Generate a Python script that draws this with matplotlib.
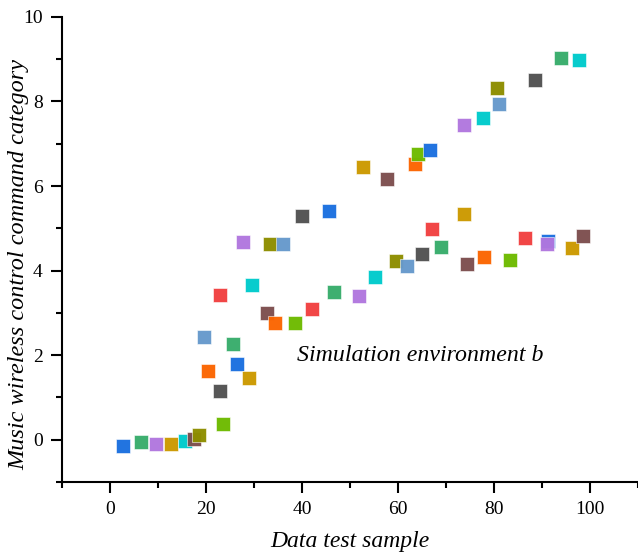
import matplotlib
matplotlib.use('Agg')
import matplotlib.pyplot as plt
from matplotlib.ticker import MultipleLocator

# Origin "Bold" palette
palette = {
    'darkgray': '#515151', 'red': '#F14040', 'blue': '#1A6FDF', 'green': '#37AD6B',
    'purple': '#B177DE', 'gold': '#CC9900', 'cyan': '#00CBCC', 'brown': '#7D4E4E',
    'olive': '#8E8E00', 'orange': '#FB6501', 'lightblue': '#6699CC', 'lime': '#6DBA00',
}

# Data (sample index, command category, colour)
samples = [2.8, 6.4, 9.6, 12.8, 15.7, 17.4, 18.6, 19.6, 20.5, 22.9, 22.9, 23.6,
           25.6, 26.4, 27.8, 28.9, 29.6, 32.7, 33.4, 34.4, 36.0, 38.5, 40.0, 42.0,
           45.6, 46.6, 51.9, 52.8, 55.3, 57.8, 59.6, 61.9, 63.6, 64.2, 65.0, 66.7,
           67.1, 69.0, 73.8, 73.8, 74.3, 77.8, 77.9, 80.7, 81.0, 83.3, 86.5, 88.6,
           91.3, 91.0, 94.0, 96.3, 97.7, 98.6]
category = [-0.15, -0.05, -0.09, -0.09, -0.02, 0.02, 0.11, 2.44, 1.62, 3.42, 1.16, 0.37,
            2.27, 1.79, 4.67, 1.46, 3.66, 3.00, 4.62, 2.77, 4.64, 2.75, 5.30, 3.10,
            5.40, 3.50, 3.40, 6.45, 3.86, 6.16, 4.22, 4.12, 6.52, 6.75, 4.39, 6.85,
            4.98, 4.55, 7.44, 5.34, 4.16, 7.61, 4.32, 8.33, 7.93, 4.26, 4.76, 8.50,
            4.70, 4.62, 9.02, 4.53, 8.99, 4.82]
colours = ['blue', 'green', 'purple', 'gold', 'cyan', 'brown', 'olive', 'lightblue', 'orange', 'red', 'darkgray', 'lime',
           'green', 'blue', 'purple', 'gold', 'cyan', 'brown', 'olive', 'orange', 'lightblue', 'lime', 'darkgray', 'red',
           'blue', 'green', 'purple', 'gold', 'cyan', 'brown', 'olive', 'lightblue', 'orange', 'lime', 'darkgray', 'blue',
           'red', 'green', 'purple', 'gold', 'brown', 'cyan', 'orange', 'olive', 'lightblue', 'lime', 'red', 'darkgray',
           'blue', 'purple', 'green', 'gold', 'cyan', 'brown']

plt.rcParams['font.family'] = 'Liberation Serif'

fig = plt.figure(figsize=(6.38, 5.55), dpi=100)
ax = fig.add_axes([0.0972, 0.1315, 0.9028, 0.838])

for xv, yv, c in zip(samples, category, colours):
    ax.plot(xv, yv, 's', ms=9.5, color=palette[c], mec='white', mew=0.4, alpha=0.97)

ax.set_xlim(-10, 110)
ax.set_ylim(-1, 10)
ax.xaxis.set_major_locator(MultipleLocator(20))
ax.xaxis.set_minor_locator(MultipleLocator(10))
ax.yaxis.set_major_locator(MultipleLocator(2))
ax.yaxis.set_minor_locator(MultipleLocator(1))

ax.spines['top'].set_visible(False)
ax.spines['right'].set_visible(False)
ax.spines['left'].set_linewidth(1.5)
ax.spines['bottom'].set_linewidth(1.5)
ax.tick_params(which='major', direction='out', length=8, width=1.5, labelsize=14, pad=6)
ax.tick_params(which='minor', direction='out', length=4, width=1.5)

ax.set_xlabel('Data test sample', fontsize=17, style='italic', labelpad=9)
ax.set_ylabel('Music wireless control command category', fontsize=17.5, style='italic')
ax.yaxis.set_label_coords(-0.056, 0.467)

ax.text(39, 2.0, 'Simulation environment b', fontsize=17.2, style='italic', va='center')

fig.savefig('out.png', dpi=100)
